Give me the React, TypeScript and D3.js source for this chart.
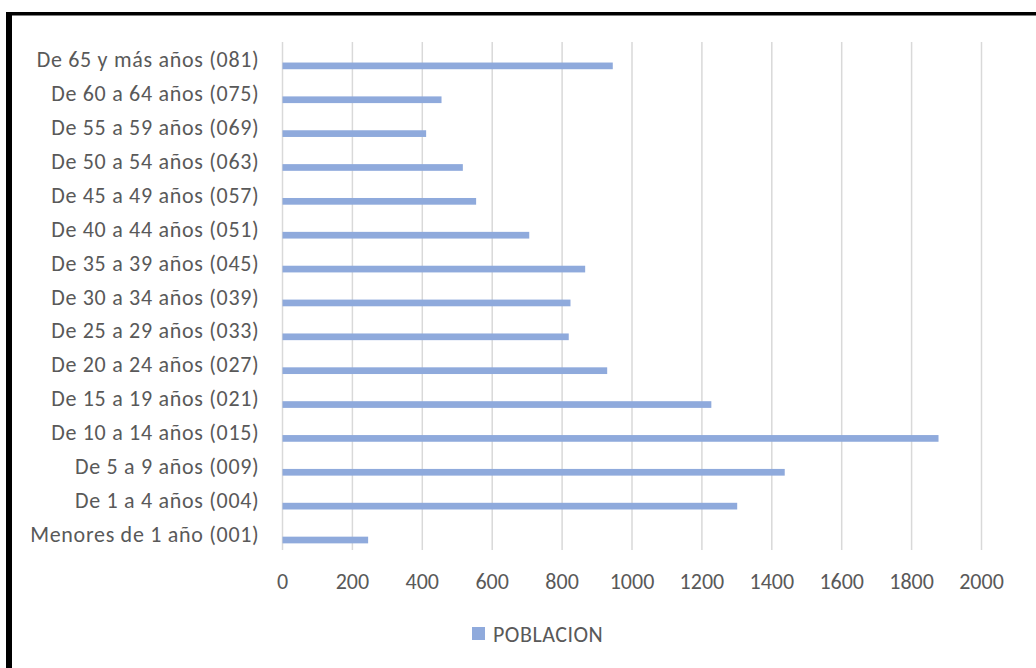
import React from "react";
import * as d3 from "d3";

// Age groups, top to bottom as drawn
const categories: string[] = [
  "De 65 y más años (081)",
  "De 60 a 64 años (075)",
  "De 55 a 59 años (069)",
  "De 50 a 54 años (063)",
  "De 45 a 49 años (057)",
  "De 40 a 44 años (051)",
  "De 35 a 39 años (045)",
  "De 30 a 34 años (039)",
  "De 25 a 29 años (033)",
  "De 20 a 24 años (027)",
  "De 15 a 19 años (021)",
  "De 10 a 14 años (015)",
  "De 5 a 9 años (009)",
  "De 1 a 4 años (004)",
  "Menores de 1 año (001)",
];

// POBLACION per age group
const poblacion: number[] = [
  945, 455, 411, 516, 554, 706, 866, 824, 819, 929, 1227, 1877, 1437, 1301, 245,
];

const xTicks: number[] = [0, 200, 400, 600, 800, 1000, 1200, 1400, 1600, 1800, 2000];
const seriesName = "POBLACION";

const W = 1036;
const H = 668;
const FONT = "Carlito, Calibri, Lato, sans-serif";
const TEXT = "#595959";
const BAR = "#8FAADC";
const GRID = "#D9D9D9";

export default function App() {
  const x = d3.scaleLinear().domain([0, 2000]).range([282.5, 981.5]);
  const y = d3.scaleBand<string>().domain(categories).range([42, 550]);
  const bw = y.bandwidth();
  const barH = 6.7;

  return (
    <svg
      width={W}
      height={H}
      viewBox={`0 0 ${W} ${H}`}
      style={{ position: "absolute", left: 0, top: 0, background: "#fff" }}
      fontFamily={FONT}
    >
      <rect x={0} y={0} width={W} height={H} fill="#fff" />
      {/* frame */}
      <rect x={6} y={12} width={W - 6} height={3.5} fill="#000" />
      <rect x={6} y={12} width={6} height={H - 12} fill="#000" />

      {/* vertical gridlines */}
      {xTicks.map((t) => (
        <line
          key={`g${t}`}
          x1={x(t)}
          x2={x(t)}
          y1={42}
          y2={550}
          stroke={GRID}
          strokeWidth={1.5}
        />
      ))}

      {/* bars */}
      {categories.map((c, i) => (
        <rect
          key={`b${c}`}
          x={x(0)}
          y={(y(c) as number) + bw * 0.705 - barH / 2}
          width={x(poblacion[i]) - x(0)}
          height={barH}
          fill={BAR}
        />
      ))}

      {/* category labels */}
      {categories.map((c) => (
        <text
          key={`l${c}`}
          x={259.5}
          y={(y(c) as number) + bw / 2 + 8.5}
          textAnchor="end"
          fontSize={22}
          letterSpacing={0.7}
          fill={TEXT}
        >
          {c}
        </text>
      ))}

      {/* x tick labels */}
      {xTicks.map((t) => (
        <text
          key={`t${t}`}
          x={x(t)}
          y={589}
          textAnchor="middle"
          fontSize={22}
          fill={TEXT}
        >
          {t}
        </text>
      ))}

      {/* legend */}
      <rect x={472} y={627} width={13} height={13} fill={BAR} />
      <text x={493} y={641.5} fontSize={22} letterSpacing={0.5} fill={TEXT}>
        {seriesName}
      </text>
    </svg>
  );
}
